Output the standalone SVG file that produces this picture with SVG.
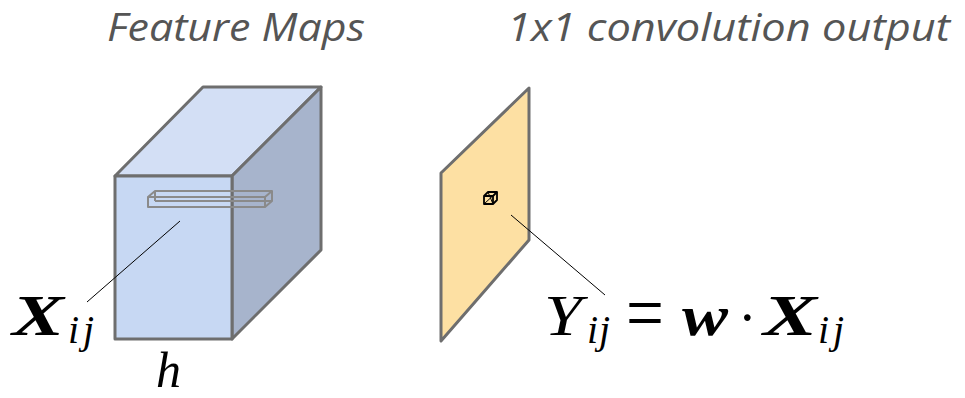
<svg xmlns="http://www.w3.org/2000/svg" width="965" height="398" viewBox="0 0 965 398">
<style>
.title{font-family:"Open Sans","Liberation Sans",sans-serif;font-style:italic;font-size:38px;fill:#555555}
.m{font-family:"Liberation Serif","DejaVu Serif",serif;fill:#000}
.it{font-style:italic}
.bi{font-style:italic;font-weight:bold}
.big{font-size:56px}
.sub{font-size:40px}
.edge{stroke:#6e6e6e;stroke-width:3;stroke-linejoin:round}
.bar{fill:none;stroke:#8a8a8a;stroke-width:2;stroke-linejoin:round}
.lead{stroke:#000;stroke-width:1;fill:none}
</style>
<rect width="965" height="398" fill="#fff"/>
<text class="title" x="107" y="41" textLength="258" lengthAdjust="spacingAndGlyphs">Feature Maps</text>
<text class="title" x="507" y="41" textLength="443" lengthAdjust="spacingAndGlyphs">1x1 convolution output</text>
<g id="feature-maps">
<polygon class="edge" points="115,176 203,87 321,87 232,176" fill="#d3dff5"/>
<polygon class="edge" points="232,176 321,87 321,250 232,339" fill="#a7b4cc"/>
<rect class="edge" x="115" y="176" width="117" height="163" fill="#c7d8f3"/>
<g id="bar">
<rect class="bar" x="148" y="197" width="117" height="10"/>
<polyline class="bar" points="148,197 155,191 272,191 272,201 265,207"/>
<line class="bar" x1="265" y1="197" x2="272" y2="191"/>
<line class="bar" x1="155" y1="191" x2="155" y2="201" stroke-width="1"/>
<line class="bar" x1="155" y1="201" x2="272" y2="201" stroke-width="1.2"/>
</g>
</g>
<g id="output">
<polygon class="edge" points="529,88 529,240 441,341 441,173" fill="#fde0a3"/>
<g id="pixel" fill="none" stroke="#000" stroke-width="1.8" stroke-linejoin="round">
<polygon points="484,196 488,192 497,192 497,200 493,204 484,204"/>
<polyline points="484,196 493,196 493,204"/>
<line x1="493" y1="196" x2="497" y2="192"/>
<line x1="484" y1="204" x2="497" y2="192" stroke-width="1"/>
<line x1="488" y1="192" x2="493" y2="204" stroke-width="1"/>
</g>
</g>
<g id="connectors">
<line class="lead" x1="180" y1="221" x2="87" y2="302"/>
<line class="lead" x1="511" y1="215" x2="605" y2="295"/>
</g>
<g id="labels">
<text class="m bi big" x="12" y="335" textLength="52" lengthAdjust="spacingAndGlyphs">X</text>
<text class="m it sub" x="68" y="343" textLength="26" lengthAdjust="spacing">ij</text>
<text class="m it" x="156" y="387" font-size="50">h</text>
<text class="m it" x="544" y="335" font-size="57" textLength="38" lengthAdjust="spacingAndGlyphs">Y</text>
<text class="m it sub" x="587" y="343" textLength="23" lengthAdjust="spacing">ij</text>
<text class="m" font-size="56" transform="translate(626,339) scale(1.2,1.4)">=</text>
<text class="m bi big" x="682" y="335" textLength="46" lengthAdjust="spacingAndGlyphs">w</text>
<text class="m" x="738" y="337" font-size="56">·</text>
<text class="m bi big" x="763" y="335" textLength="54" lengthAdjust="spacingAndGlyphs">X</text>
<text class="m it sub" x="818" y="343" textLength="26" lengthAdjust="spacing">ij</text>
</g>
</svg>
